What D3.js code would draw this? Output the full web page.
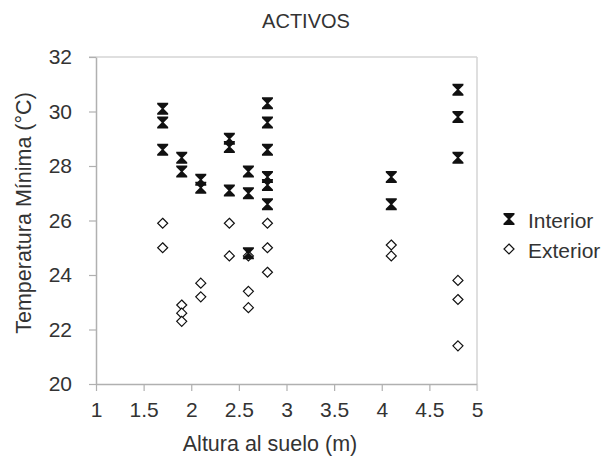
<html>
<head>
<script src="https://d3js.org/d3.v7.min.js"></script>
<style>
	body { margin: 0; background: white; }
	text { font-family: "Liberation Sans", Arial, sans-serif; fill: #333; }
</style>
</head>
<body>
<script>
	var width = 605, height = 458;
	var margin = {top: 57, left: 96, right: 128, bottom: 74};

	// Interior series
	var intX = [1.7,1.7,1.7, 1.9,1.9, 2.1,2.1, 2.4,2.4,2.4, 2.6,2.6,2.6, 2.8,2.8,2.8,2.8,2.8,2.8, 4.1,4.1, 4.8,4.8,4.8];
	var intY = [30.1,29.6,28.6, 28.3,27.8, 27.5,27.2, 29.0,28.7,27.1, 27.8,27.0,24.8, 30.3,29.6,28.6,27.6,27.3,26.6, 27.6,26.6, 30.8,29.8,28.3];
	// Exterior series
	var extX = [1.7,1.7, 1.9,1.9,1.9, 2.1,2.1, 2.4,2.4, 2.6,2.6,2.6, 2.8,2.8,2.8, 4.1,4.1, 4.8,4.8,4.8];
	var extY = [25.9,25.0, 22.9,22.6,22.3, 23.7,23.2, 25.9,24.7, 24.7,23.4,22.8, 25.9,25.0,24.1, 25.1,24.7, 23.8,23.1,21.4];
	var xTicks = [1,1.5,2,2.5,3,3.5,4,4.5,5];
	var yTicks = [20,22,24,26,28,30,32];
	var seriesNames = ["Interior","Exterior"];

	var svg = d3.select("body").append("svg")
		.attr("width", width).attr("height", height);

	var x = d3.scaleLinear().domain([1,5]).range([margin.left, width-margin.right]);
	var y = d3.scaleLinear().domain([20,32]).range([height-margin.bottom, margin.top]);

	// top and right box lines
	svg.append("line").attr("x1", margin.left-7).attr("x2", x(5)).attr("y1", y(32)).attr("y2", y(32))
		.attr("stroke","#d4d4d4").attr("stroke-width",1.5);
	svg.append("line").attr("x1", x(5)).attr("x2", x(5)).attr("y1", y(32)).attr("y2", y(20)+7)
		.attr("stroke","#d4d4d4").attr("stroke-width",1.5);

	var xAxis = svg.append("g").attr("transform","translate(0,"+y(20)+")")
		.call(d3.axisBottom(x).tickValues(xTicks).tickSize(7).tickPadding(11).tickSizeOuter(0)
			.tickFormat(function(d){ return d3.format("")(d); }));
	var yAxis = svg.append("g").attr("transform","translate("+margin.left+",0)")
		.call(d3.axisLeft(y).tickValues(yTicks).tickSize(7).tickPadding(17).tickSizeOuter(0));
	[xAxis, yAxis].forEach(function(a){
		a.select(".domain").attr("stroke","#b0b0b0").attr("stroke-width",1.5);
		a.selectAll(".tick line").attr("stroke","#b0b0b0").attr("stroke-width",1.2);
		a.selectAll(".tick text").attr("font-size",21).attr("fill","#333");
	});
	xAxis.select(".tick:last-of-type line").attr("stroke","#d4d4d4");

	var hourglass = "M-5.5,-6H5.5V-4.5L1,0L5.5,4.5V6H-5.5V4.5L-1,0L-5.5,-4.5Z";
	var diamond = "M0,-5L5,0L0,5L-5,0Z";

	var extPts = extX.map(function(d,i){ return [d, extY[i]]; });
	var intPts = intX.map(function(d,i){ return [d, intY[i]]; });

	svg.selectAll("path.ext").data(extPts).enter().append("path")
		.attr("class","ext").attr("d", diamond)
		.attr("transform", function(d){ return "translate("+x(d[0])+","+y(d[1])+")"; })
		.attr("fill","white").attr("stroke","#111").attr("stroke-width",1.2);
	svg.selectAll("path.int").data(intPts).enter().append("path")
		.attr("class","int").attr("d", hourglass)
		.attr("transform", function(d){ return "translate("+x(d[0])+","+y(d[1])+")"; })
		.attr("fill","#111");

	// legend
	var lg = svg.append("g").attr("transform","translate(509,219)");
	lg.append("path").attr("d", hourglass).attr("fill","#111");
	lg.append("text").attr("x",19).attr("y",9).attr("font-size",21).text(seriesNames[0]);
	lg.append("path").attr("d", diamond).attr("transform","translate(0,30)")
		.attr("fill","white").attr("stroke","#111").attr("stroke-width",1.2);
	lg.append("text").attr("x",19).attr("y",39).attr("font-size",21).text(seriesNames[1]);

	// titles
	svg.append("text").attr("x",306).attr("y",28).attr("text-anchor","middle")
		.attr("font-size",20).text("ACTIVOS");
	svg.append("text").attr("x",270).attr("y",451).attr("text-anchor","middle")
		.attr("font-size",21.5).text("Altura al suelo (m)");
	svg.append("text").attr("transform","translate(31,213) rotate(-90)")
		.attr("text-anchor","middle").attr("font-size",21.5).text("Temperatura Mínima (°C)");
</script>
</body>
</html>
